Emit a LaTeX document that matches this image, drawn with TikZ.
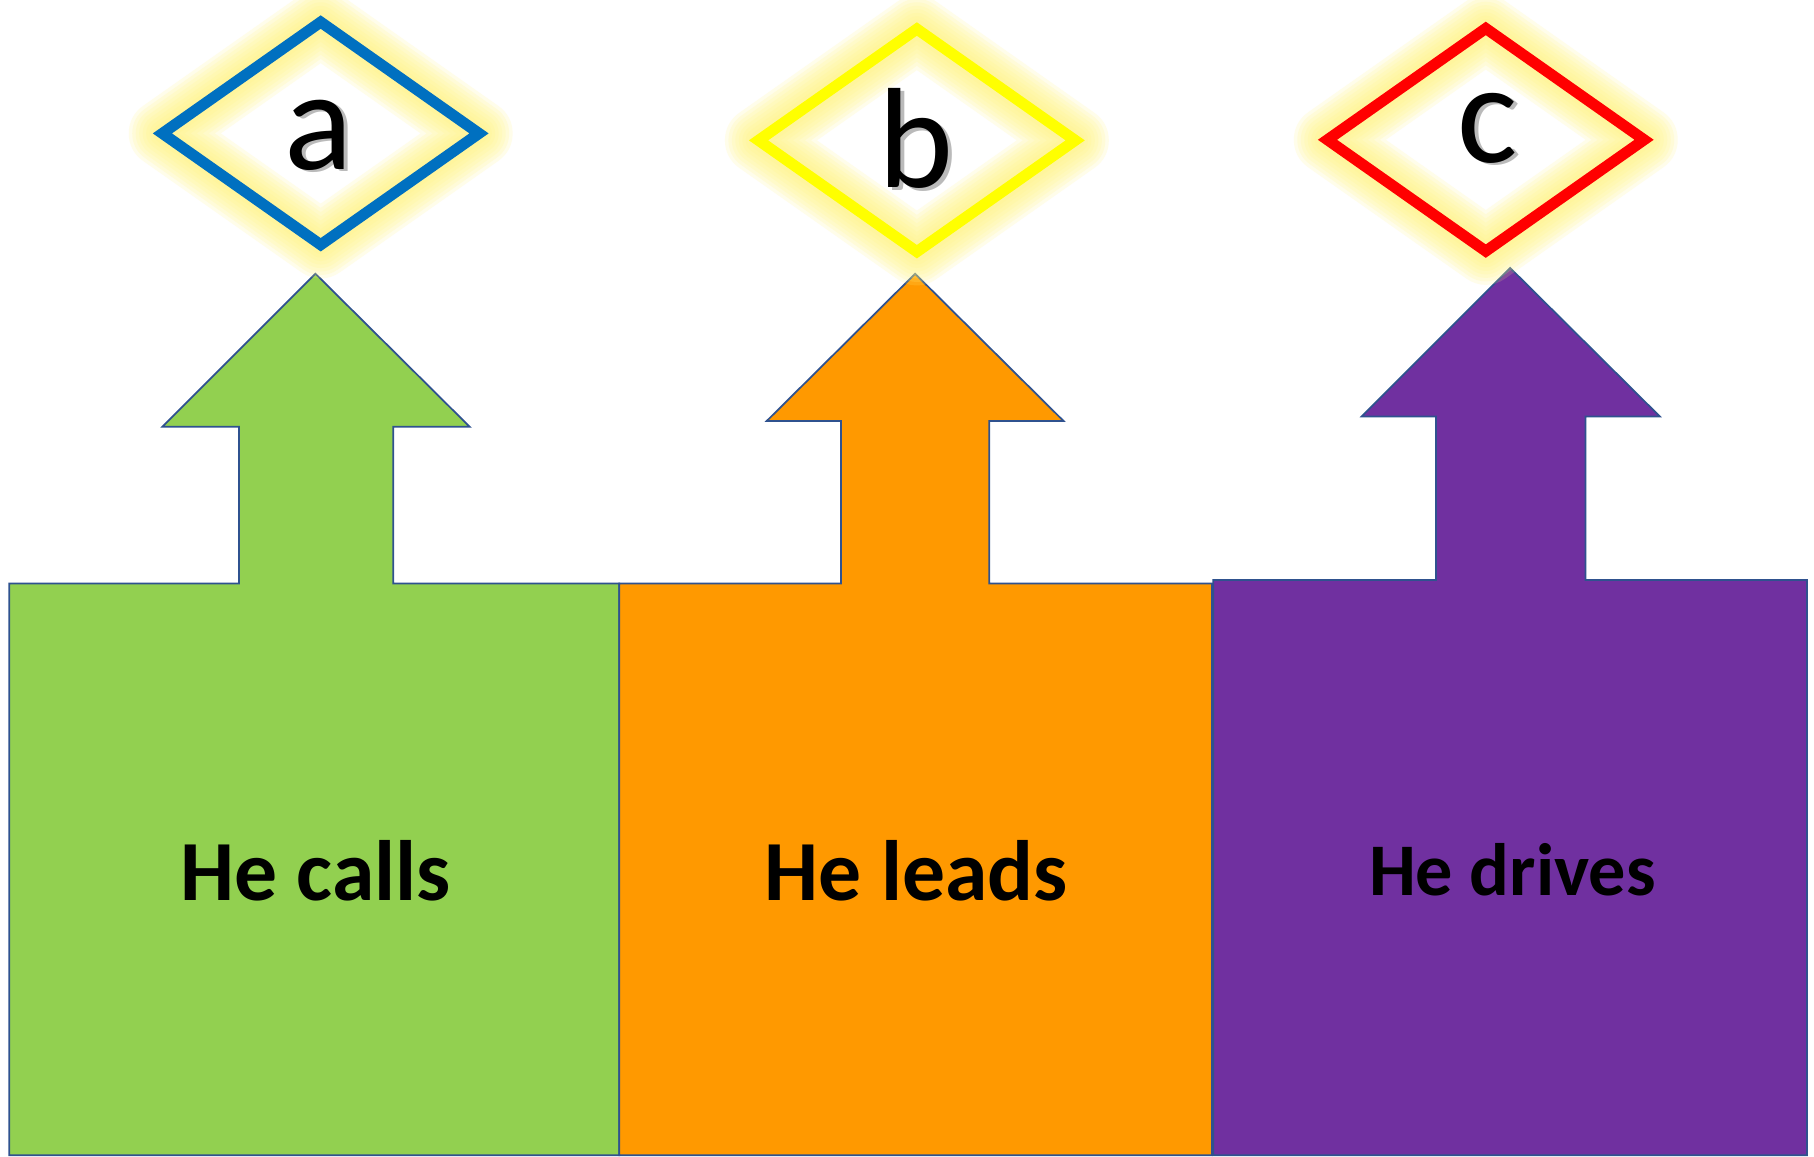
\documentclass[tikz,border=0pt]{standalone}
\usepackage{fontspec}
\setmainfont{Carlito}
\definecolor{cgreen}{HTML}{92D050}
\definecolor{corange}{HTML}{FF9900}
\definecolor{cpurple}{HTML}{7030A0}
\definecolor{cblue}{HTML}{0070C0}
\definecolor{cred}{HTML}{FF0000}
\definecolor{cyellow}{HTML}{FFFF00}
\definecolor{cedge}{HTML}{2F528F}
\definecolor{cglow}{HTML}{FFF580}
\tikzset{
  block/.style={draw=cedge, line width=0.015cm, line join=miter},
  glowline/.style={draw=cglow, draw opacity=0.16, line join=round},
  dline/.style={line width=0.095cm, line join=miter},
  letter/.style={inner sep=0, anchor=base, font=\fontsize{35}{40}\selectfont},
  caption/.style={inner sep=0, anchor=base, font=\fontsize{21}{25}\selectfont\bfseries}
}
\begin{document}
\begin{tikzpicture}[x=0.01cm, y=-0.01cm]
\useasboundingbox[fill=white] (0,0) rectangle (1564,996.7);
% blocks with arrows
\path[block, fill=cgreen] (8,996) -- (8,503) -- (206,503) -- (206,368) -- (140,368) -- (272,236) -- (405,368) -- (339,368) -- (339,503) -- (534,503) -- (534,996) -- cycle;
\path[block, fill=corange] (534,996) -- (534,503) -- (725,503) -- (725,363) -- (661,363) -- (789,236) -- (917,363) -- (853,363) -- (853,503) -- (1045,503) -- (1045,996) -- cycle;
\path[block, fill=cpurple] (1046,996) -- (1046,500) -- (1238,500) -- (1238,359) -- (1174,359) -- (1302,231) -- (1431,359) -- (1367,359) -- (1367,500) -- (1558,500) -- (1558,996) -- cycle;
% diamonds with glow
\foreach \x/\y/\c in {276.5/115/cblue, 790.5/121/cyellow, 1281/120.5/cred} {
  \foreach \w in {58,52,46,40,34,28,22,16} {
    \draw[glowline, line width=\w*0.01cm] (\x-136.5,\y) -- (\x,\y-96) -- (\x+136.5,\y) -- (\x,\y+96) -- cycle;
  }
  \draw[dline, draw=\c] (\x-136.5,\y) -- (\x,\y-96) -- (\x+136.5,\y) -- (\x,\y+96) -- cycle;
}
% letters with soft shadow
\node[letter, text=black!45, opacity=0.6] (sa) at (278,148) {a};
\node[letter] (la) at (275,146) {a};
\node[letter, text=black!45, opacity=0.6] (sb) at (793,164) {b};
\node[letter] (lb) at (790,162) {b};
\node[letter, text=black!45, opacity=0.6] (sc) at (1286,142) {c};
\node[letter] (lc) at (1283,140) {c};
% captions
\node[caption] (t1) at (272,776) {He calls};
\node[caption] (t2) at (790,776) {He leads};
\node[caption, font=\fontsize{18.2}{22}\selectfont\bfseries] (t3) at (1304,772) {He drives};
\end{tikzpicture}
\end{document}
